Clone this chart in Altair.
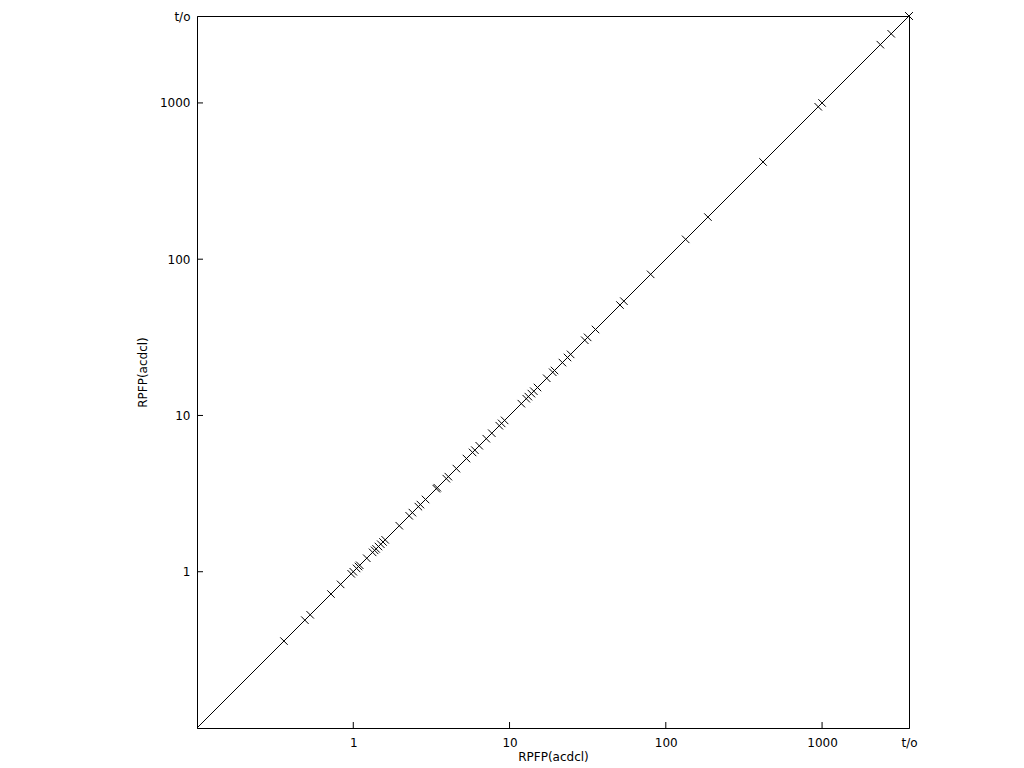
import altair as alt
import pandas as pd

# runtimes (seconds); 3600 = timeout ("t/o")
x_vals = [0.36, 0.49, 0.53, 0.72, 0.83, 0.97, 1.0, 1.05, 1.08, 1.1, 1.22,
          1.33, 1.37, 1.4, 1.45, 1.5, 1.55, 1.6,
          1.97, 2.28, 2.39, 2.61, 2.69, 2.9, 3.4, 3.45, 3.94, 4.06, 4.57,
          5.3, 5.8, 6.0, 6.4, 7.1,
          7.7, 8.6, 8.9, 9.3, 11.9, 12.8, 13.2, 13.8, 14.3, 15.1, 17.3,
          18.9, 19.4, 21.8, 23.5, 24.6, 30.3, 31.6, 35.5,
          50.9, 53.9, 80, 134, 186, 419, 945, 1000, 2360, 2770, 3600, 3600]
y_vals = [0.36, 0.49, 0.53, 0.72, 0.83, 0.97, 1.0, 1.05, 1.08, 1.1, 1.22,
          1.33, 1.37, 1.4, 1.45, 1.5, 1.55, 1.6,
          1.97, 2.28, 2.39, 2.61, 2.69, 2.9, 3.4, 3.45, 3.94, 4.06, 4.57,
          5.3, 5.8, 6.0, 6.4, 7.1,
          7.7, 8.6, 8.9, 9.3, 11.9, 12.8, 13.2, 13.8, 14.3, 15.1, 17.3,
          18.9, 19.4, 21.8, 23.5, 24.6, 30.3, 31.6, 35.5,
          50.9, 53.9, 80, 134, 186, 419, 945, 1000, 2360, 2770, 3600, 3600]

diag_vals = [0.1, 3600]
tick_vals = [1, 10, 100, 1000]
label_vals = [1, 10, 100, 1000, 3600]
TIMEOUT = 3600

pts = pd.DataFrame({"x": x_vals, "y": y_vals})
diag = pd.DataFrame({"x": diag_vals, "y": diag_vals})
ticks = pd.DataFrame({"v": tick_vals})

W = H = 712
FONT = "DejaVu Sans"

xscale = alt.Scale(type="log", domain=[0.1, TIMEOUT], nice=False)
yscale = alt.Scale(type="log", domain=[0.1, TIMEOUT], nice=False)

label_expr = f"datum.value >= {TIMEOUT} ? 't/o' : format(datum.value, '~g')"

xaxis = alt.Axis(values=label_vals, labelExpr=label_expr, title="RPFP(acdcl)",
                 ticks=False, grid=False, labelPadding=9, titlePadding=3,
                 labelFlush=False, labelOverlap=False)
yaxis = alt.Axis(values=label_vals, labelExpr=label_expr, title="RPFP(acdcl)",
                 ticks=False, grid=False, labelPadding=7, titlePadding=10,
                 labelFlush=False, labelOverlap=False)

line = alt.Chart(diag).mark_line(color="black", strokeWidth=1, clip=True).encode(
    x=alt.X("x:Q", scale=xscale, axis=xaxis),
    y=alt.Y("y:Q", scale=yscale, axis=yaxis),
)

cross = "M-1,-1L1,1M-1,1L1,-1"
points = alt.Chart(pts).mark_point(
    shape=cross, size=56, filled=False, color="black", strokeWidth=1, opacity=1
).encode(
    x=alt.X("x:Q", scale=xscale),
    y=alt.Y("y:Q", scale=yscale),
)

xticks = alt.Chart(ticks).mark_rule(color="black", strokeWidth=1).encode(
    x=alt.X("v:Q", scale=xscale),
    y=alt.value(H),
    y2=alt.value(H - 6),
)
yticks = alt.Chart(ticks).mark_rule(color="black", strokeWidth=1).encode(
    y=alt.Y("v:Q", scale=yscale),
    x=alt.value(0),
    x2=alt.value(6),
)

chart = alt.layer(line, xticks, yticks, points).properties(
    width=W, height=H,
    autosize=alt.AutoSizeParams(type="none"),
    padding={"left": 189, "top": 8, "right": 10, "bottom": 40},
).configure_view(
    stroke="black", strokeWidth=1
).configure_axis(
    domainColor="black", domainWidth=1,
    labelFont=FONT, labelFontSize=12, labelColor="black",
    titleFont=FONT, titleFontSize=12, titleFontWeight="normal", titleColor="black",
)

chart.save("out.html", embed_options={"renderer": "svg", "actions": False})
